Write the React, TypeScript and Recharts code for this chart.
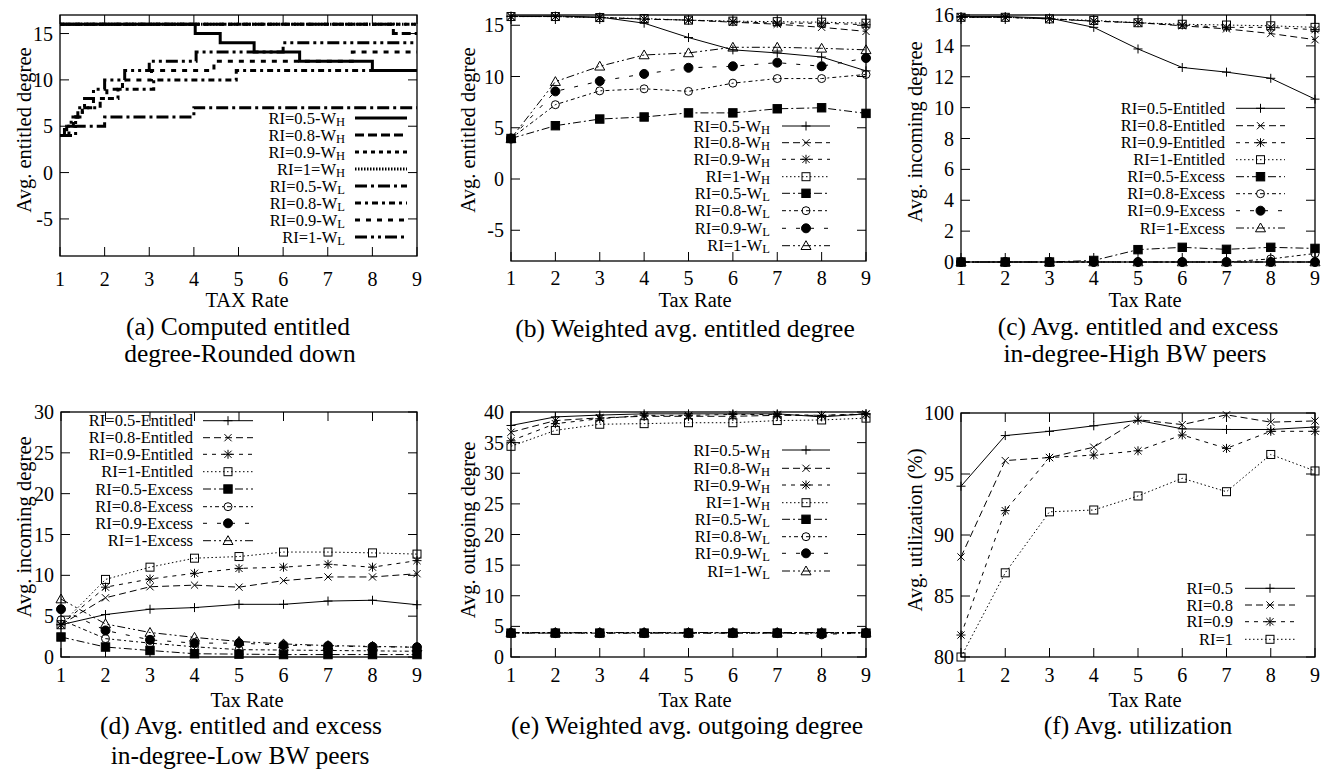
import React from "react";
import { LineChart, Line, XAxis, YAxis } from "recharts";

const FONT = '"Liberation Serif", "Times New Roman", Times, serif';
const PAGE_W = 1331;
const PAGE_H = 771;

// ---------------- data ----------------
const taxRates = [1, 2, 3, 4, 5, 6, 7, 8, 9];
const xTicks = [1, 2, 3, 4, 5, 6, 7, 8, 9];

// (a) computed entitled degree (rounded down) - step breakpoints / levels
const aH05X = [1, 4.03, 4.59, 5.35, 6.37, 8.0, 9];
const aH05Y = [16, 15, 14, 13, 12, 11, 11];
const aH08X = [1, 8.47, 9];
const aH08Y = [16, 15, 15];
const aH09X = [1, 9];
const aH09Y = [16, 16];
const aH1X = [1, 9];
const aH1Y = [16, 16];
const aL05X = [1, 1.35, 2.0, 4.0, 9];
const aL05Y = [4, 5, 6, 7, 7];
const aL08X = [1, 1.2, 1.35, 1.5, 1.9, 2.3, 3.1, 4.95, 9];
const aL08Y = [4, 5, 6, 7, 8, 9, 10, 11, 11];
const aL09X = [1, 1.15, 1.3, 1.5, 1.75, 2.05, 2.4, 3.05, 4.45, 7.55, 9];
const aL09Y = [4, 5, 6, 7, 8, 9, 10, 11, 12, 13, 13];
const aL1X = [1, 1.1, 1.25, 1.4, 1.55, 1.75, 2.0, 2.45, 3.0, 4.05, 6.0, 9];
const aL1Y = [4, 5, 6, 7, 8, 9, 10, 11, 12, 13, 14, 14];

// weighted entitled degree, high BW peers (b) == entitled in-degree high BW (c)
const wh05 = [15.9, 15.9, 15.8, 15.2, 13.8, 12.6, 12.3, 11.9, 10.55];
const wh08 = [15.85, 15.85, 15.75, 15.6, 15.5, 15.3, 15.1, 14.8, 14.4];
const wh09 = [15.85, 15.85, 15.75, 15.6, 15.5, 15.35, 15.2, 15.2, 15.05];
const wh1 = [15.85, 15.85, 15.75, 15.65, 15.5, 15.4, 15.35, 15.3, 15.2];
// weighted entitled degree, low BW peers (b) == entitled in-degree low BW (d)
const wl05 = [3.95, 5.2, 5.85, 6.05, 6.45, 6.45, 6.85, 6.95, 6.4];
const wl08 = [3.95, 7.25, 8.6, 8.8, 8.55, 9.35, 9.8, 9.8, 10.2];
const wl09 = [3.95, 8.55, 9.55, 10.25, 10.85, 11.0, 11.35, 11.0, 11.8];
const wl1 = [3.95, 9.5, 11.0, 12.1, 12.3, 12.85, 12.85, 12.75, 12.6];
// (c) excess in-degree, high BW peers
const exH05 = [0, 0, 0, 0.1, 0.8, 0.95, 0.82, 0.95, 0.88];
const exH08 = [0, 0, 0, 0, 0, 0, 0, 0.2, 0.55];
const exH09 = [0, 0, 0, 0, 0, 0, 0, 0, 0];
const exH1 = [0, 0, 0, 0, 0, 0, 0, 0, 0];
// (d) excess in-degree, low BW peers
const exL05 = [2.45, 1.22, 0.8, 0.4, 0.35, 0.3, 0.3, 0.3, 0.3];
const exL08 = [4.55, 2.25, 1.7, 1.25, 0.9, 0.85, 0.8, 0.75, 0.7];
const exL09 = [5.85, 3.25, 2.1, 1.7, 1.7, 1.45, 1.35, 1.25, 1.2];
const exL1 = [7.1, 4.05, 3.0, 2.4, 1.9, 1.6, 1.4, 1.3, 1.2];
// (e) weighted outgoing degree
const outH05 = [37.8, 39.2, 39.5, 39.7, 39.7, 39.7, 39.7, 39.2, 39.7];
const outH08 = [36.7, 38.6, 39.05, 39.3, 39.3, 39.3, 39.45, 39.45, 39.6];
const outH09 = [35.3, 38.1, 38.9, 39.45, 39.45, 39.6, 39.6, 39.45, 39.7];
const outH1 = [34.4, 37.0, 38.0, 38.1, 38.25, 38.25, 38.6, 38.7, 39.0];
const outL05 = [3.9, 3.9, 3.9, 3.9, 3.9, 3.9, 3.9, 3.9, 3.9];
const outL08 = [3.95, 3.95, 3.95, 3.95, 3.95, 3.95, 3.95, 3.95, 3.95];
const outL09 = [3.9, 3.9, 3.9, 3.9, 3.9, 3.9, 3.9, 3.7, 3.9];
const outL1 = [4.0, 4.0, 4.0, 4.0, 4.0, 4.0, 4.0, 4.0, 4.0];
// (f) utilization %
const util05 = [94.0, 98.15, 98.5, 98.95, 99.4, 98.7, 98.65, 98.65, 98.85];
const util08 = [88.2, 96.1, 96.35, 97.2, 99.45, 99.05, 99.85, 99.25, 99.35];
const util09 = [81.8, 92.0, 96.35, 96.55, 96.9, 98.2, 97.1, 98.5, 98.5];
const util1 = [80.0, 86.9, 91.9, 92.05, 93.2, 94.65, 93.55, 96.6, 95.25];

// tick labels
const yTicksA = [-5, 0, 5, 10, 15];
const yTicksB = [-5, 0, 5, 10, 15];
const yTicksC = [0, 2, 4, 6, 8, 10, 12, 14, 16];
const yTicksD = [0, 5, 10, 15, 20, 25, 30];
const yTicksE = [0, 5, 10, 15, 20, 25, 30, 35, 40];
const yTicksF = [80, 85, 90, 95, 100];

// ---------------- tables built from the arrays ----------------
const zipXY = (xs: number[], ys: number[]) => xs.map((x, i) => ({ x, y: ys[i] }));
const rowsFrom = (cols: Record<string, number[]>) =>
  taxRates.map((x, i) => {
    const r: any = { x };
    Object.keys(cols).forEach((k) => (r[k] = cols[k][i]));
    return r;
  });

const rowsB = rowsFrom({ s1: wh05, s2: wh08, s3: wh09, s4: wh1, s5: wl05, s6: wl08, s7: wl09, s8: wl1 });
const rowsC = rowsFrom({ s1: wh05, s2: wh08, s3: wh09, s4: wh1, s5: exH05, s6: exH08, s7: exH09, s8: exH1 });
const rowsD = rowsFrom({ s1: wl05, s2: wl08, s3: wl09, s4: wl1, s5: exL05, s6: exL08, s7: exL09, s8: exL1 });
const rowsE = rowsFrom({ s1: outH05, s2: outH08, s3: outH09, s4: outH1, s5: outL05, s6: outL08, s7: outL09, s8: outL1 });
const rowsF = rowsFrom({ s1: util05, s2: util08, s3: util09, s4: util1 });

// ---------------- styles ----------------
const DASH = {
  solid: undefined as string | undefined,
  long: "7,4",
  short: "4,5",
  dot: "1.5,2.5",
  dashDot: "8,3,2,3",
  shortDashDot: "4,3,2,3",
  sparse: "4,10",
  dashDotDot: "8,3,2,3,2,3",
};
const DASH_A = {
  solid: undefined as string | undefined,
  long: "9,4",
  short: "4,4",
  dot: "1.5,1.5",
  dashDot: "12,4,3,4",
  shortDashDot: "6,4,3,4",
  sparse: "5,6",
  dashDotDot: "12,4,3,4,3,4",
};

type MarkerType = "plus" | "cross" | "star" | "square" | "fsquare" | "circle" | "fcircle" | "triangle";

function Marker({ type, cx, cy }: { type: MarkerType; cx: number; cy: number }) {
  const s = 4.5;
  const c = 3.6;
  const plus = (
    <>
      <line x1={cx - s} y1={cy} x2={cx + s} y2={cy} />
      <line x1={cx} y1={cy - s} x2={cx} y2={cy + s} />
    </>
  );
  const cross = (
    <>
      <line x1={cx - c} y1={cy - c} x2={cx + c} y2={cy + c} />
      <line x1={cx - c} y1={cy + c} x2={cx + c} y2={cy - c} />
    </>
  );
  let inner: React.ReactNode = null;
  switch (type) {
    case "plus":
      inner = plus;
      break;
    case "cross":
      inner = cross;
      break;
    case "star":
      inner = (
        <>
          {plus}
          {cross}
        </>
      );
      break;
    case "square":
      inner = <rect x={cx - 4} y={cy - 4} width={8} height={8} fill="none" />;
      break;
    case "fsquare":
      inner = <rect x={cx - 4.2} y={cy - 4.2} width={8.4} height={8.4} fill="#000" />;
      break;
    case "circle":
      inner = <circle cx={cx} cy={cy} r={4} fill="none" />;
      break;
    case "fcircle":
      inner = <circle cx={cx} cy={cy} r={4.5} fill="#000" />;
      break;
    case "triangle":
      inner = <path d={`M${cx},${cy - 5} L${cx + 5},${cy + 3.8} L${cx - 5},${cy + 3.8} Z`} fill="none" />;
      break;
  }
  return (
    <g stroke="#000" strokeWidth={1} strokeDasharray="none">
      {inner}
    </g>
  );
}

type Box = { L: number; T: number; R: number; B: number };
type SeriesSpec = {
  name: string;
  sub?: string;
  dataKey: string;
  dash?: string;
  marker?: MarkerType;
  data?: { x: number; y: number }[];
};

type PanelProps = {
  box: Box;
  yDomain: [number, number];
  yTicks: number[];
  xLabelY: number;
  yTitle: string;
  yTitlePos: [number, number];
  xTitle: string;
  xTitlePos: [number, number];
  captions: { text: string; x: number; y: number }[];
  rows?: any[];
  series: SeriesSpec[];
  step?: boolean;
  lineWidth: number;
  legend: { right: number; x1: number; x2: number; ys: number[]; lineWidth: number };
};

function Panel(p: PanelProps) {
  const { box } = p;
  const TL = 9;
  const xTick = (t: any) => (
    <g key={`xt-${t.index}`}>
      <line x1={t.x} y1={box.B} x2={t.x} y2={box.B - TL} stroke="#000" />
      <line x1={t.x} y1={box.T} x2={t.x} y2={box.T + TL} stroke="#000" />
      <text
        x={t.x}
        y={p.xLabelY}
        textAnchor="middle"
        dominantBaseline="central"
        fontSize={20}
        fontFamily={FONT}
        fill="#000"
      >
        {t.payload.value}
      </text>
    </g>
  );
  const yTick = (t: any) => (
    <g key={`yt-${t.index}`}>
      <line x1={box.L} y1={t.y} x2={box.L + TL} y2={t.y} stroke="#000" />
      <line x1={box.R} y1={t.y} x2={box.R - TL} y2={t.y} stroke="#000" />
      <text
        x={box.L - 7}
        y={t.y}
        textAnchor="end"
        dominantBaseline="central"
        fontSize={20}
        fontFamily={FONT}
        fill="#000"
      >
        {t.payload.value}
      </text>
    </g>
  );
  const textStyle = { fontFamily: FONT, fill: "#000" } as const;
  return (
    <div style={{ position: "absolute", left: 0, top: 0 }}>
      <LineChart
        width={PAGE_W}
        height={PAGE_H}
        data={p.rows}
        margin={{ top: box.T, left: box.L - 1, right: PAGE_W - box.R, bottom: PAGE_H - box.B - 1 }}
      >
        <XAxis
          dataKey="x"
          type="number"
          domain={[1, 9]}
          ticks={xTicks}
          interval={0}
          height={1}
          tickSize={0}
          tickMargin={0}
          axisLine={false}
          tickLine={false}
          tick={xTick}
        />
        <YAxis
          type="number"
          domain={p.yDomain}
          ticks={p.yTicks}
          interval={0}
          width={1}
          tickSize={0}
          tickMargin={0}
          axisLine={false}
          tickLine={false}
          tick={yTick}
        />
        <rect
          x={box.L}
          y={box.T}
          width={box.R - box.L}
          height={box.B - box.T}
          fill="none"
          stroke="#000"
          strokeWidth={1.3}
        />
        <text
          x={p.yTitlePos[0]}
          y={p.yTitlePos[1]}
          transform={`rotate(-90 ${p.yTitlePos[0]} ${p.yTitlePos[1]})`}
          textAnchor="middle"
          dominantBaseline="central"
          fontSize={20.5}
          {...textStyle}
        >
          {p.yTitle}
        </text>
        <text
          x={p.xTitlePos[0]}
          y={p.xTitlePos[1]}
          textAnchor="middle"
          dominantBaseline="central"
          fontSize={20.5}
          {...textStyle}
        >
          {p.xTitle}
        </text>
        {p.captions.map((c, i) => (
          <text
            key={`cap-${i}`}
            x={c.x}
            y={c.y}
            textAnchor="middle"
            dominantBaseline="central"
            fontSize={25.5}
            {...textStyle}
          >
            {c.text}
          </text>
        ))}
        {p.series.map((s, i) => {
          const y = p.legend.ys[i];
          return (
            <g key={`lg-${i}`}>
              <text
                x={p.legend.right}
                y={y}
                textAnchor="end"
                dominantBaseline="central"
                fontSize={16.5}
                {...textStyle}
              >
                {s.name}
                {s.sub ? (
                  <tspan dy={3.5} fontSize={12.5}>
                    {s.sub}
                  </tspan>
                ) : null}
              </text>
              <line
                x1={p.legend.x1}
                x2={p.legend.x2}
                y1={y}
                y2={y}
                stroke="#000"
                strokeWidth={p.legend.lineWidth}
                strokeDasharray={s.dash}
              />
              {s.marker ? <Marker type={s.marker} cx={(p.legend.x1 + p.legend.x2) / 2} cy={y} /> : null}
            </g>
          );
        })}
        {p.series.map((s, i) => (
          <Line
            key={`ln-${i}`}
            data={s.data}
            dataKey={s.data ? "y" : s.dataKey}
            type={p.step ? "stepAfter" : "linear"}
            stroke="#000"
            strokeWidth={p.lineWidth}
            strokeDasharray={s.dash}
            dot={
              s.marker
                ? (d: any) =>
                    d.cx == null || d.cy == null ? (
                      <g key={`d-${i}-${d.index}`} />
                    ) : (
                      <Marker key={`d-${i}-${d.index}`} type={s.marker as MarkerType} cx={d.cx} cy={d.cy} />
                    )
                : false
            }
            activeDot={false}
            isAnimationActive={false}
            legendType="none"
          />
        ))}
      </LineChart>
    </div>
  );
}

// ---------------- series specs ----------------
const seriesA: SeriesSpec[] = [
  { name: "RI=0.5-W", sub: "H", dataKey: "y", dash: DASH_A.solid, data: zipXY(aH05X, aH05Y) },
  { name: "RI=0.8-W", sub: "H", dataKey: "y", dash: DASH_A.long, data: zipXY(aH08X, aH08Y) },
  { name: "RI=0.9-W", sub: "H", dataKey: "y", dash: DASH_A.short, data: zipXY(aH09X, aH09Y) },
  { name: "RI=1=W", sub: "H", dataKey: "y", dash: DASH_A.dot, data: zipXY(aH1X, aH1Y) },
  { name: "RI=0.5-W", sub: "L", dataKey: "y", dash: DASH_A.dashDot, data: zipXY(aL05X, aL05Y) },
  { name: "RI=0.8-W", sub: "L", dataKey: "y", dash: DASH_A.shortDashDot, data: zipXY(aL08X, aL08Y) },
  { name: "RI=0.9-W", sub: "L", dataKey: "y", dash: DASH_A.sparse, data: zipXY(aL09X, aL09Y) },
  { name: "RI=1-W", sub: "L", dataKey: "y", dash: DASH_A.dashDotDot, data: zipXY(aL1X, aL1Y) },
];

const seriesWHWL = (): SeriesSpec[] => [
  { name: "RI=0.5-W", sub: "H", dataKey: "s1", dash: DASH.solid, marker: "plus" },
  { name: "RI=0.8-W", sub: "H", dataKey: "s2", dash: DASH.long, marker: "cross" },
  { name: "RI=0.9-W", sub: "H", dataKey: "s3", dash: DASH.short, marker: "star" },
  { name: "RI=1-W", sub: "H", dataKey: "s4", dash: DASH.dot, marker: "square" },
  { name: "RI=0.5-W", sub: "L", dataKey: "s5", dash: DASH.dashDot, marker: "fsquare" },
  { name: "RI=0.8-W", sub: "L", dataKey: "s6", dash: DASH.shortDashDot, marker: "circle" },
  { name: "RI=0.9-W", sub: "L", dataKey: "s7", dash: DASH.sparse, marker: "fcircle" },
  { name: "RI=1-W", sub: "L", dataKey: "s8", dash: DASH.dashDotDot, marker: "triangle" },
];

const seriesEntExc = (): SeriesSpec[] => [
  { name: "RI=0.5-Entitled", dataKey: "s1", dash: DASH.solid, marker: "plus" },
  { name: "RI=0.8-Entitled", dataKey: "s2", dash: DASH.long, marker: "cross" },
  { name: "RI=0.9-Entitled", dataKey: "s3", dash: DASH.short, marker: "star" },
  { name: "RI=1-Entitled", dataKey: "s4", dash: DASH.dot, marker: "square" },
  { name: "RI=0.5-Excess", dataKey: "s5", dash: DASH.dashDot, marker: "fsquare" },
  { name: "RI=0.8-Excess", dataKey: "s6", dash: DASH.shortDashDot, marker: "circle" },
  { name: "RI=0.9-Excess", dataKey: "s7", dash: DASH.sparse, marker: "fcircle" },
  { name: "RI=1-Excess", dataKey: "s8", dash: DASH.dashDotDot, marker: "triangle" },
];

const seriesF: SeriesSpec[] = [
  { name: "RI=0.5", dataKey: "s1", dash: DASH.solid, marker: "plus" },
  { name: "RI=0.8", dataKey: "s2", dash: DASH.long, marker: "cross" },
  { name: "RI=0.9", dataKey: "s3", dash: DASH.short, marker: "star" },
  { name: "RI=1", dataKey: "s4", dash: DASH.dot, marker: "square" },
];

export default function App() {
  return (
    <div
      style={{
        position: "absolute",
        left: 0,
        top: 0,
        width: PAGE_W,
        height: PAGE_H,
        background: "#fff",
        overflow: "hidden",
      }}
    >
      <Panel
        box={{ L: 60, T: 15, R: 417, B: 256 }}
        yDomain={[-9, 17]}
        yTicks={yTicksA}
        xLabelY={279}
        yTitle="Avg. entitled degree"
        yTitlePos={[24, 130]}
        xTitle="TAX Rate"
        xTitlePos={[247, 300]}
        captions={[
          { text: "(a) Computed entitled", x: 238, y: 326 },
          { text: "degree-Rounded down", x: 240, y: 353 },
        ]}
        series={seriesA}
        step
        lineWidth={3}
        legend={{ right: 345, x1: 355, x2: 407, ys: [118, 135, 152, 169, 186, 203, 220, 237], lineWidth: 3 }}
      />
      <Panel
        box={{ L: 511, T: 15, R: 866, B: 261 }}
        yDomain={[-8, 16]}
        yTicks={yTicksB}
        xLabelY={278}
        yTitle="Avg. entitled degree"
        yTitlePos={[468, 130]}
        xTitle="Tax Rate"
        xTitlePos={[695, 300]}
        captions={[{ text: "(b) Weighted avg. entitled degree", x: 685, y: 328 }]}
        rows={rowsB}
        series={seriesWHWL()}
        lineWidth={1}
        legend={{ right: 770, x1: 782, x2: 830, ys: [126, 142.7, 159.3, 176.7, 193.3, 210.7, 228.3, 245.7], lineWidth: 1 }}
      />
      <Panel
        box={{ L: 961, T: 15, R: 1315, B: 262 }}
        yDomain={[0, 16]}
        yTicks={yTicksC}
        xLabelY={278}
        yTitle="Avg. incoming degree"
        yTitlePos={[915, 132]}
        xTitle="Tax Rate"
        xTitlePos={[1145, 300]}
        captions={[
          { text: "(c) Avg. entitled and excess", x: 1138, y: 326 },
          { text: "in-degree-High BW peers", x: 1135, y: 353 },
        ]}
        rows={rowsC}
        series={seriesEntExc()}
        lineWidth={1}
        legend={{ right: 1225, x1: 1236, x2: 1285, ys: [108.3, 125.7, 142.7, 159.7, 176.7, 193.7, 210.7, 228], lineWidth: 1 }}
      />
      <Panel
        box={{ L: 61, T: 412, R: 417, B: 657 }}
        yDomain={[0, 30]}
        yTicks={yTicksD}
        xLabelY={675}
        yTitle="Avg. incoming degree"
        yTitlePos={[24, 527]}
        xTitle="Tax Rate"
        xTitlePos={[247, 700]}
        captions={[
          { text: "(d) Avg. entitled and excess", x: 241, y: 725 },
          { text: "in-degree-Low BW peers", x: 240, y: 755 },
        ]}
        rows={rowsD}
        series={seriesEntExc()}
        lineWidth={1}
        legend={{ right: 193, x1: 203, x2: 253, ys: [420.7, 437.7, 454.3, 471.7, 489, 506.7, 523.3, 540.7], lineWidth: 1 }}
      />
      <Panel
        box={{ L: 511, T: 412, R: 866, B: 657 }}
        yDomain={[0, 40]}
        yTicks={yTicksE}
        xLabelY={675}
        yTitle="Avg. outgoing degree"
        yTitlePos={[468, 530]}
        xTitle="Tax Rate"
        xTitlePos={[695, 700]}
        captions={[{ text: "(e) Weighted avg. outgoing degree", x: 687, y: 725 }]}
        rows={rowsE}
        series={seriesWHWL()}
        lineWidth={1}
        legend={{ right: 770, x1: 782, x2: 830, ys: [450, 468.3, 485, 502.7, 519.3, 536.7, 553.3, 571], lineWidth: 1 }}
      />
      <Panel
        box={{ L: 961, T: 413, R: 1315, B: 657 }}
        yDomain={[80, 100]}
        yTicks={yTicksF}
        xLabelY={675}
        yTitle="Avg. utilization (%)"
        yTitlePos={[915, 530]}
        xTitle="Tax Rate"
        xTitlePos={[1145, 700]}
        captions={[{ text: "(f) Avg. utilization", x: 1138, y: 725 }]}
        rows={rowsF}
        series={seriesF}
        lineWidth={1}
        legend={{ right: 1233, x1: 1245, x2: 1295, ys: [588.3, 605, 621.7, 639.3], lineWidth: 1 }}
      />
    </div>
  );
}
